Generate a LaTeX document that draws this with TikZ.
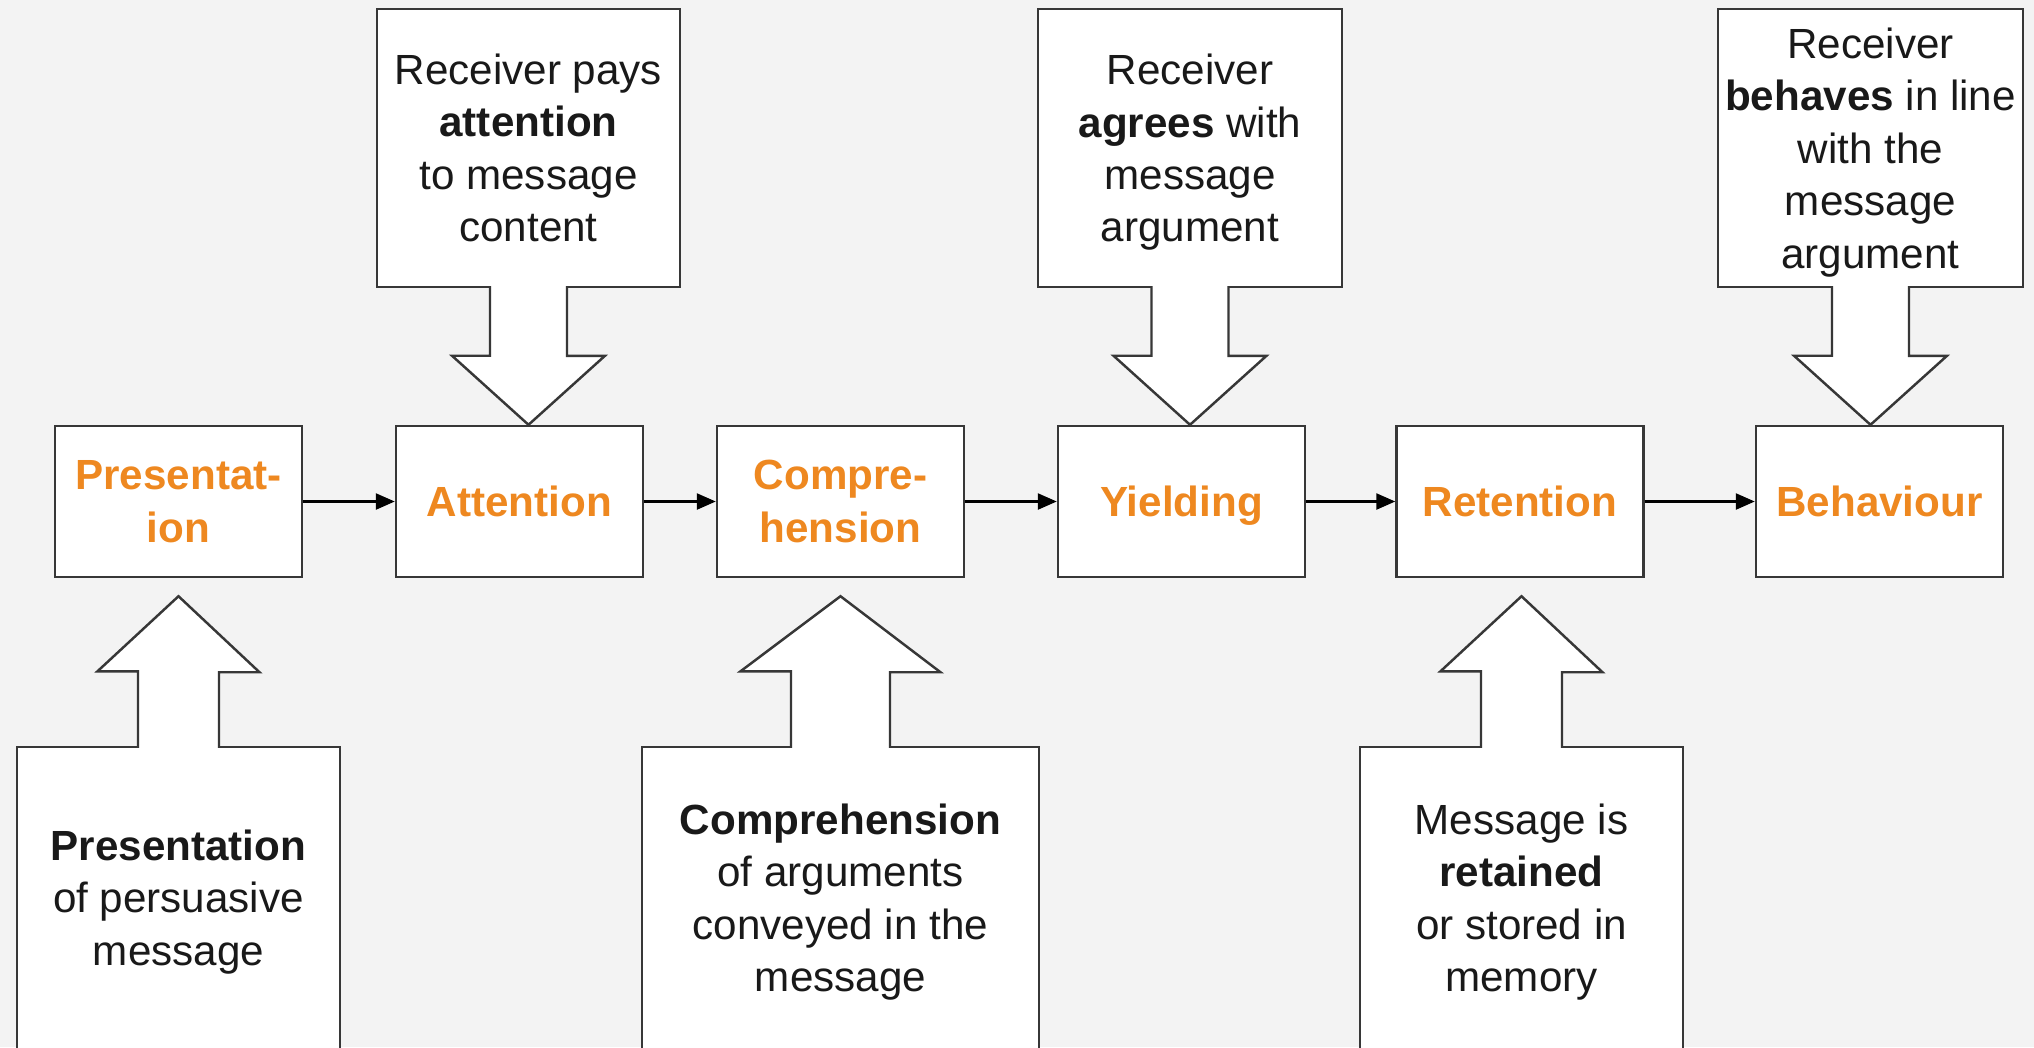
\documentclass[tikz,border=0pt]{standalone}
\usepackage{fontspec}
\setmainfont{Liberation Sans}
\usetikzlibrary{arrows.meta,calc,positioning}
\usepackage{xcolor}
\definecolor{pumpkin}{RGB}{238,136,32}
\definecolor{paper}{RGB}{243,243,243}
\definecolor{inkgrey}{RGB}{55,55,55}

\begin{document}
\begin{tikzpicture}[
    stage/.style={draw=inkgrey, fill=white, line width=0.7pt, minimum width=2.47cm,
      minimum height=1.51cm, inner sep=0pt, align=center,
      font=\fontsize{12}{14.9}\selectfont\bfseries, text=pumpkin},
    note/.style={draw=inkgrey, fill=white, line width=0.7pt, inner sep=0pt,
      align=center, font=\fontsize{12}{14.9}\selectfont, text=black!90},
    flow/.style={draw=black, line width=0.7pt, -{Triangle[length=0.19cm,width=0.16cm]}},
    blockarrow/.style={draw=inkgrey, fill=white, line width=0.7pt, line join=miter}]
	% Background and page size.
	\useasboundingbox (0,0) rectangle (20.34,-10.47);
	\clip (0,0) rectangle (20.34,-10.47);
	\fill [paper] (0,0) rectangle (20.34,-10.47);

	% The six stages.
	\node (presentation) at (1.785,-5.015) [stage] {Presentat-\\ion};
	\node (attention) at (5.195,-5.015) [stage] {Attention};
	\node (comprehension) at (8.405,-5.015) [stage] {Compre-\\hension};
	\node (yielding) at (11.815,-5.015) [stage, text depth=0pt] {Yielding};
	\node (retention) at (15.20,-5.015) [stage] {Retention};
	\node (behaviour) at (18.795,-5.015) [stage] {Behaviour};

	% Notes above.
	\node (attnote) at (5.285,-1.48) [note, minimum width=3.03cm, minimum height=2.78cm]
		{Receiver pays\\\textbf{attention}\\to message\\content};
	\node (yieldnote) at (11.90,-1.48) [note, text depth=0pt, minimum width=3.04cm, minimum height=2.78cm]
		{Receiver\\\textbf{agrees} with\\message\\argument};
	\node (behavnote) at (18.705,-1.48) [note, text depth=0pt, minimum width=3.05cm, minimum height=2.78cm]
		{Receiver\\\textbf{behaves} in line\\with the\\message\\argument};

	% Notes below.
	\node (presnote) at (1.785,-9.02) [note, minimum width=3.23cm, minimum height=3.10cm]
		{\textbf{Presentation}\\of persuasive\\message};
	\node (compnote) at (8.405,-9.02) [note, minimum width=3.97cm, minimum height=3.10cm]
		{\textbf{Comprehension}\\of arguments\\conveyed in the\\message};
	\node (retnote) at (15.215,-9.02) [note, minimum width=3.23cm, minimum height=3.10cm]
		{Message is\\\textbf{retained}\\or stored in\\memory};

	% Chain of stages.
	\foreach \a/\b in {presentation/attention, attention/comprehension,
	                   comprehension/yielding, yielding/retention, retention/behaviour}
		\draw [flow] (\a.east) -- (\b.west);

	% Block arrows going down.
	\foreach \src/\dst in {attnote/attention, yieldnote/yielding, behavnote/behaviour}
		\draw [blockarrow] ([xshift=-0.385cm,yshift=0.6pt]\src.south) -- ++(0,-0.696)
			-- ++(-0.38,0) -- (\src.south |- \dst.north) -- ++(0.765,0.69)
			-- ++(-0.38,0) -- ([xshift=0.385cm,yshift=0.6pt]\src.south);

	% Block arrows going up.
	\foreach \src/\dst/\s/\h in {presnote/presentation/0.405/0.81,
	                             compnote/comprehension/0.495/1.0,
	                             retnote/retention/0.405/0.81}
		\draw [blockarrow] ([xshift=-\s cm,yshift=-0.6pt]\src.north) -- ++(0,0.766)
			-- ++({\s-\h},0) -- ($(\src.north |- \dst.south)+(0,-0.18)$) -- ++(\h,-0.76)
			-- ++({\s-\h},0) -- ([xshift=\s cm,yshift=-0.6pt]\src.north);

\end{tikzpicture}
\end{document}
